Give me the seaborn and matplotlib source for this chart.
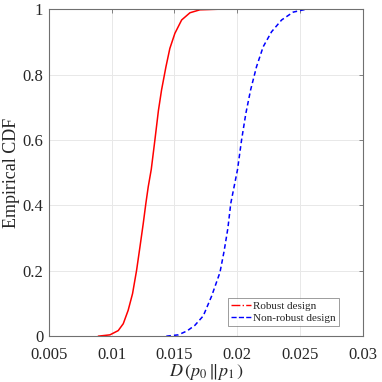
import pandas as pd
import matplotlib
matplotlib.use('Agg')
import matplotlib.pyplot as plt
import seaborn as sns
from matplotlib.lines import Line2D

# empirical CDF curves
robust_x = [0.00893, 0.00986, 0.01052, 0.01092, 0.01131, 0.01166, 0.01198, 0.01225,
            0.01251, 0.01272, 0.01291, 0.01315, 0.01344, 0.01372, 0.01397, 0.01432,
            0.01463, 0.01503, 0.01557, 0.01623, 0.01702, 0.01862]
robust_cdf = [0.0, 0.004, 0.017, 0.038, 0.079, 0.130, 0.201, 0.273,
              0.344, 0.406, 0.457, 0.510, 0.600, 0.690, 0.753, 0.824,
              0.880, 0.926, 0.967, 0.989, 0.998, 1.0]

nonrobust_x = [0.01435, 0.01530, 0.01600, 0.01662, 0.01729, 0.01795, 0.01862, 0.01895,
               0.01925, 0.01948, 0.02002, 0.02034, 0.02068, 0.02106, 0.02153, 0.02206,
               0.02273, 0.02353, 0.02445, 0.02552, 0.02724]
nonrobust_cdf = [0.0, 0.004, 0.016, 0.033, 0.062, 0.122, 0.195, 0.26,
                 0.33, 0.406, 0.51, 0.600, 0.681, 0.753, 0.824, 0.885,
                 0.931, 0.967, 0.991, 1.0, 1.0]

series_names = ['Robust design', 'Non-robust design']
x_ticks = [0.005, 0.01, 0.015, 0.02, 0.025, 0.03]
x_tick_labels = ['0.005', '0.01', '0.015', '0.02', '0.025', '0.03']
y_ticks = [0, 0.2, 0.4, 0.6, 0.8, 1]
y_tick_labels = ['0', '0.2', '0.4', '0.6', '0.8', '1']

df = pd.concat([
    pd.DataFrame({'D': robust_x, 'CDF': robust_cdf, 'design': series_names[0]}),
    pd.DataFrame({'D': nonrobust_x, 'CDF': nonrobust_cdf, 'design': series_names[1]}),
], ignore_index=True)

sns.set_style('white')
plt.rcParams['font.family'] = ['Liberation Serif', 'DejaVu Serif']
plt.rcParams['mathtext.fontset'] = 'stix'

fig = plt.figure(figsize=(3.82, 3.82), dpi=100)
ax = fig.add_axes([0.128, 0.12, 0.822, 0.856])

sns.lineplot(data=df, x='D', y='CDF', hue='design', style='design',
             palette={series_names[0]: '#ff0000', series_names[1]: '#0000ff'},
             dashes={series_names[0]: '', series_names[1]: (3, 2)},
             linewidth=1.1, legend=False, sort=False, ax=ax)

ax.set_xlim(0.005, 0.03)
ax.set_ylim(0, 1)
ax.set_xticks(x_ticks)
ax.set_xticklabels(x_tick_labels)
ax.set_yticks(y_ticks)
ax.set_yticklabels(y_tick_labels)
ax.grid(True, color='#e8e8e8', linewidth=0.7)
for s in ax.spines.values():
    s.set_color('#707070')
    s.set_linewidth(0.8)
ax.tick_params(direction='in', length=3, width=0.6, color='#707070',
               top=True, right=True, labelsize=12, labelcolor='#262626')
ax.tick_params(axis='x', pad=8)
ax.tick_params(axis='y', pad=4)

ax.set_xlabel(r'$D\,(p_0\,\|p_1\,)$', fontsize=13, color='#262626', labelpad=-1)
ax.set_ylabel('Empirical CDF', fontsize=13, color='#262626', labelpad=2)

legend_elements = [
    Line2D([0], [0], color='#ff0000', lw=1, linestyle='-.', label=series_names[0]),
    Line2D([0], [0], color='#0000ff', lw=1, linestyle='--', label=series_names[1]),
]
leg = ax.legend(handles=legend_elements, loc='lower right', fontsize=8,
                bbox_to_anchor=(0.924, 0.031),
                frameon=True, fancybox=False, edgecolor='#707070',
                handlelength=1.8, handletextpad=0.2, borderpad=0.3,
                labelspacing=0.2, borderaxespad=0)
leg.get_frame().set_linewidth(0.6)

fig.savefig('out.png', dpi=100)
